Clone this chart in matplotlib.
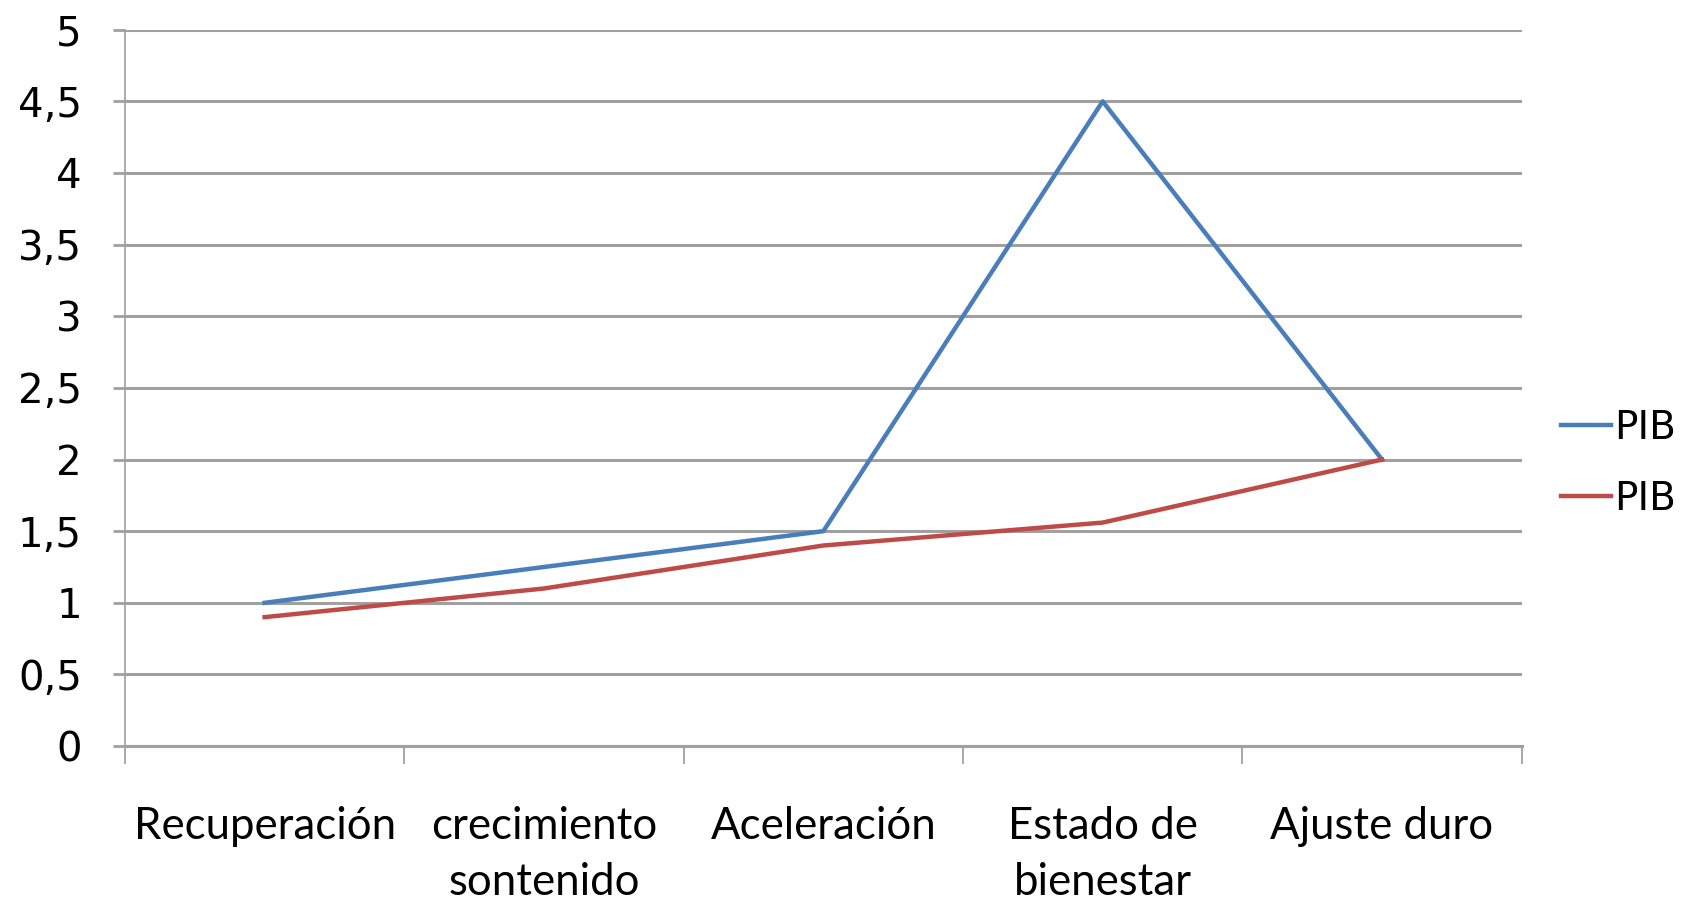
import matplotlib.pyplot as plt
import numpy as np

categories = ["Recuperación", "crecimiento\nsontenido", "Aceleración",
              "Estado de\nbienestar", "Ajuste duro"]
pib_blue = [1.0, 1.25, 1.5, 4.5, 2.0]
pib_red = [0.9, 1.1, 1.4, 1.56, 2.0]
yticks = np.arange(0, 5.5, 0.5)
ytick_labels = ["0", "0,5", "1", "1,5", "2", "2,5", "3", "3,5", "4", "4,5", "5"]

fig = plt.figure(figsize=(16.93, 9), dpi=100)
ax = fig.add_axes([0.0738, 0.171, 0.825, 0.796])

x = np.arange(len(categories))
ax.plot(x, pib_blue, color="#4a7ebb", lw=3.2, label="PIB")
ax.plot(x, pib_red, color="#be4b48", lw=3.2, label="PIB")

ax.set_xlim(-0.5, len(categories) - 0.5)
ax.set_ylim(0, 5)
ax.set_yticks(yticks)
ax.set_yticklabels(ytick_labels, fontsize=29, family="DejaVu Sans")
ax.set_xticks(x)
ax.set_xticklabels(categories, fontsize=31.5, family=["Lato", "DejaVu Sans"],
                   linespacing=1.45)
ax.tick_params(axis="x", which="major", length=0, pad=43)
ax.set_xticks(np.arange(-0.5, len(categories)), minor=True)
ax.tick_params(axis="x", which="minor", length=13, width=1.2, color="#9a9a9a")
ax.tick_params(axis="y", length=9, width=2, color="#a0a0a0", pad=22)

ax.yaxis.grid(True, color="#a0a0a0", lw=2.2)
ax.set_axisbelow(True)
for s in ["top", "right"]:
    ax.spines[s].set_visible(False)
ax.spines["left"].set_color("#a0a0a0")
ax.spines["left"].set_linewidth(1.2)
ax.spines["bottom"].set_color("#a0a0a0")
ax.spines["bottom"].set_linewidth(2.2)

ax.legend(loc="center left", bbox_to_anchor=(1.028, 0.395), frameon=False,
          prop={"family": "DejaVu Sans", "size": 28},
          handlelength=1.3, handletextpad=0.08, labelspacing=0.85,
          borderaxespad=0, borderpad=0)

fig.savefig("out.png", dpi=100)
